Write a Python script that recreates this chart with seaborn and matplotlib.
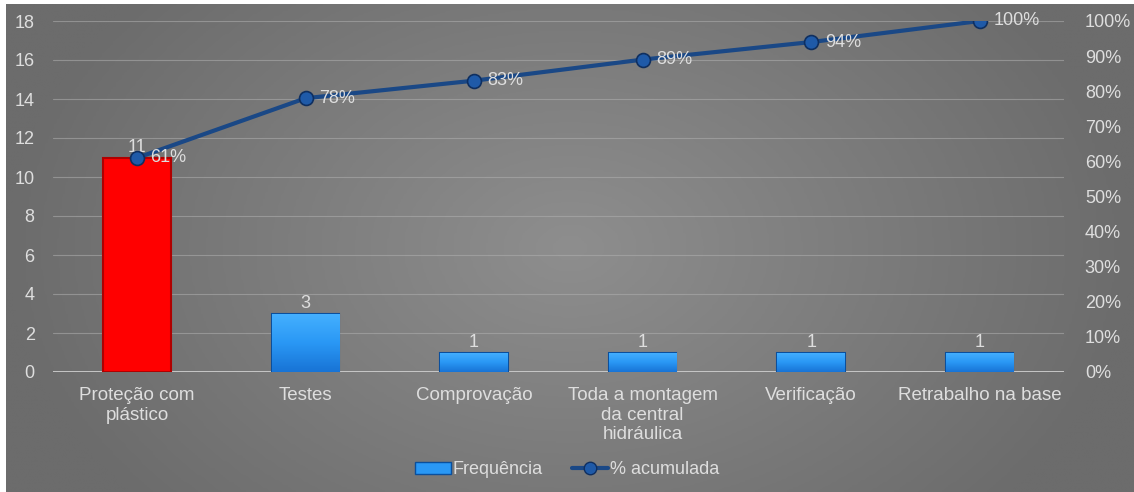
import numpy as np
import matplotlib
matplotlib.use("Agg")
import matplotlib.pyplot as plt
from matplotlib.patches import Patch
from matplotlib.lines import Line2D
from matplotlib.colors import LinearSegmentedColormap
import seaborn as sns

# Pareto data: occurrences per activity and the cumulative share
categories = ["Proteção com\nplástico", "Testes", "Comprovação",
              "Toda a montagem\nda central\nhidráulica", "Verificação",
              "Retrabalho na base"]
frequencia = [11, 3, 1, 1, 1, 1]
acumulada_pct = [61, 78, 83, 89, 94, 100]
left_ticks = [0, 2, 4, 6, 8, 10, 12, 14, 16, 18]
right_ticks = [0, 10, 20, 30, 40, 50, 60, 70, 80, 90, 100]

sns.set_style("white")
plt.rcParams["font.family"] = ["Liberation Sans", "DejaVu Sans"]

TXT = "#dedede"
W, H = 1134, 492
fig = plt.figure(figsize=(W / 100, H / 100), dpi=100)
fig.patch.set_facecolor("white")

# Radial gray backdrop of the chart area
bg = fig.add_axes([6 / W, 0, 1 - 6 / W, (H - 4) / H])
yy, xx = np.mgrid[-1:1:200j, -1:1:400j]
r = np.sqrt((xx / 1.0) ** 2 + (yy / 1.6) ** 2)
shade = np.clip(1 - r, 0, 1)
bg_cmap = LinearSegmentedColormap.from_list("bg", ["#6c6c6c", "#8e8e8e"])
bg.imshow(shade, cmap=bg_cmap, aspect="auto", extent=[0, 1, 0, 1], vmin=0, vmax=1)
bg.set_axis_off()

ax = fig.add_axes([52.7 / W, 1 - 372 / H, (1064 - 52.7) / W, (372 - 21) / H])
ax.patch.set_alpha(0)

colors = ["#ff0000"] + ["#1e8ff0"] * (len(categories) - 1)
sns.barplot(x=categories, y=frequencia, hue=categories, palette=colors,
            legend=False, width=0.40, ax=ax, saturation=1, zorder=3)

edge_cols = ["#b00000"] + ["#0b4f9c"] * (len(categories) - 1)
blue_grad = LinearSegmentedColormap.from_list("bar", ["#1874d6", "#2a98f5", "#45b0ff"])
for i, p in enumerate(ax.patches):
    p.set_edgecolor(edge_cols[i])
    p.set_linewidth(1.5)
    if i > 0:
        x0, y0 = p.get_x(), p.get_y()
        w, h = p.get_width(), p.get_height()
        grad = np.linspace(0, 1, 50).reshape(-1, 1)
        im = ax.imshow(grad, cmap=blue_grad, origin="lower", aspect="auto",
                       extent=[x0, x0 + w, y0, y0 + h], zorder=3.5)
        im.set_clip_path(p)
    ax.text(p.get_x() + p.get_width() / 2, p.get_height() + 0.1,
            str(frequencia[i]), ha="center", va="bottom", color=TXT,
            fontsize=13, zorder=6)

ax.set_xlim(-0.5, len(categories) - 0.5)
ax.set_ylim(0, 18)
ax.set_yticks(left_ticks)
ax.grid(axis="y", color="#b0b0b0", lw=0.8, alpha=0.55, zorder=0)
ax.axhline(0, color="#cdcdcd", lw=1.3, zorder=2)
for s in ax.spines.values():
    s.set_visible(False)
ax.tick_params(axis="y", length=0, pad=13, labelsize=13, labelcolor=TXT)
ax.tick_params(axis="x", length=0, pad=11, labelsize=13.5, labelcolor=TXT)
ax.set_xlabel("")
ax.set_ylabel("")
for t in ax.get_xticklabels():
    t.set_linespacing(1.2)

ax2 = ax.twinx()
ax2.patch.set_alpha(0)
xpos = np.arange(len(categories))
sns.lineplot(x=xpos, y=acumulada_pct, ax=ax2, color="#1a4886", lw=3,
             marker="o", markersize=10, markerfacecolor="#1f5aa8",
             markeredgecolor="#0f2f60", markeredgewidth=1.2, zorder=5)
for xi, v in zip(xpos, acumulada_pct):
    ax2.text(xi + 0.08, v, f"{v}%", ha="left", va="center", color=TXT,
             fontsize=13, zorder=6)
ax2.set_ylim(0, 100)
ax2.set_yticks(right_ticks)
ax2.set_yticklabels([f"{t}%" for t in right_ticks])
for s in ax2.spines.values():
    s.set_visible(False)
ax2.tick_params(axis="y", length=0, pad=15, labelsize=13, labelcolor=TXT)
ax2.set_ylabel("")
ax2.grid(False)

handles = [
    Patch(facecolor="#2a98f5", edgecolor="#0b4f9c", label="Frequência"),
    Line2D([0], [0], color="#1a4886", lw=3, marker="o", markersize=9,
           markerfacecolor="#1f5aa8", markeredgecolor="#0f2f60",
           label="% acumulada"),
]
fig.legend(handles=handles, loc="center", bbox_to_anchor=(0.5, 1 - 470 / H),
           ncol=2, frameon=False, fontsize=13, labelcolor=TXT,
           handlelength=2.0, handletextpad=0.1, columnspacing=1.6,
           handleheight=0.6)

fig.savefig("out.png", dpi=100)
